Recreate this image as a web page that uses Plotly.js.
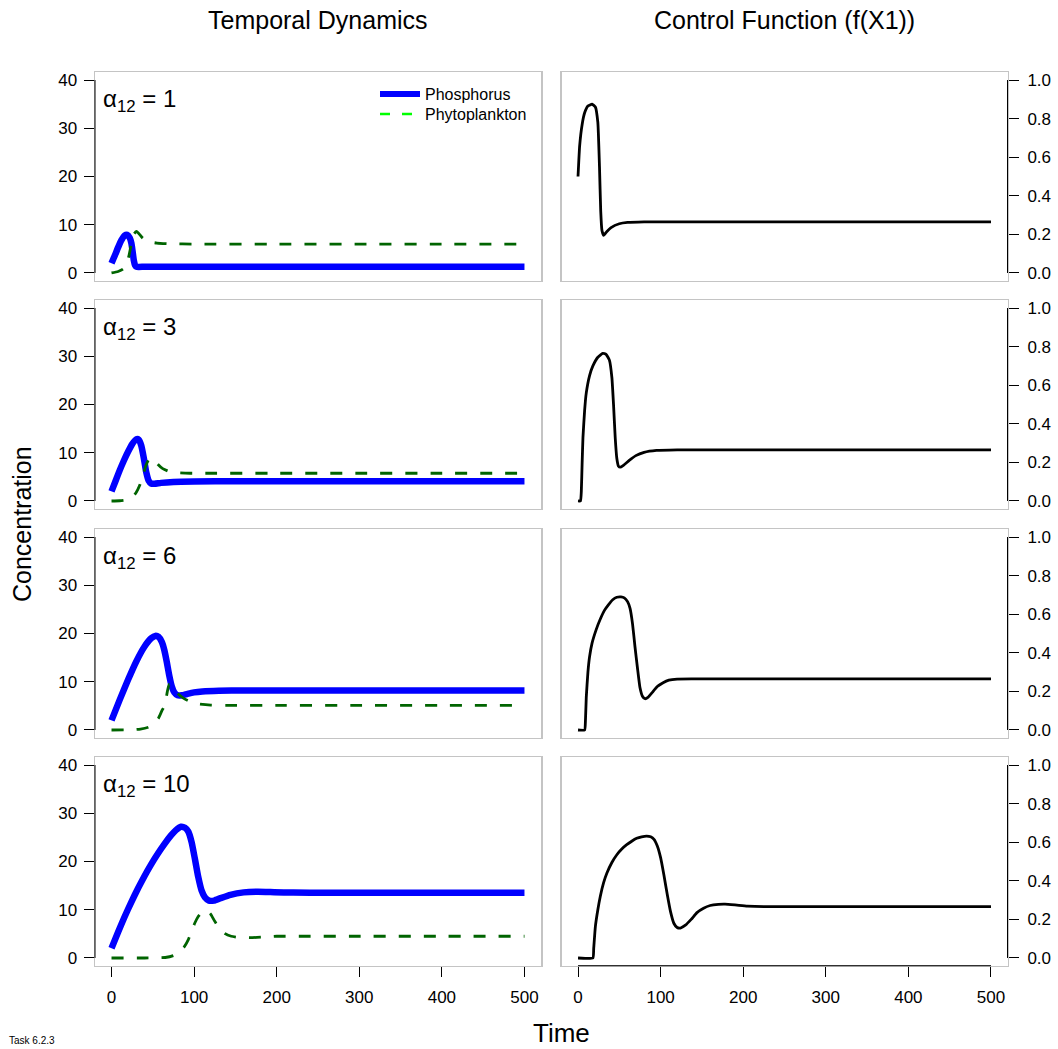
<!DOCTYPE html>
<html>
<head>
<meta charset="utf-8">
<script src="https://cdn.plot.ly/plotly-3.0.1.min.js"></script>
<style>html,body{margin:0;padding:0;background:#fff;}#chart{width:1058px;height:1049px;}</style>
</head>
<body>
<div id="chart"></div>
<script>
// ---------- Data ----------
const alphaLabels = ["1", "3", "6", "10"];
const xTicks = [0, 100, 200, 300, 400, 500];
const concTicks = [0, 10, 20, 30, 40];
const ctrlTicks = [0, 0.2, 0.4, 0.6, 0.8, 1.0];

// alpha12 = 1
const tPhos1 = [0, 4, 8, 12, 16, 19, 22, 24, 25.5, 27, 28.5, 30, 33, 40, 60, 100, 200, 300, 400, 500];
const phos1  = [2.0, 3.6, 5.3, 6.8, 7.8, 7.9, 7.3, 6.2, 4.5, 2.6, 1.6, 1.3, 1.25, 1.3, 1.3, 1.3, 1.3, 1.3, 1.3, 1.3];
const tPhyto1 = [0, 8, 14, 18, 21, 24, 27, 30, 33, 38, 45, 55, 70, 100, 200, 300, 400, 500];
const phyto1  = [0, 0.3, 0.8, 1.8, 3.5, 6.0, 8.0, 8.6, 8.2, 7.2, 6.5, 6.2, 6.05, 6.0, 6.0, 6.0, 6.0, 6.0];
const tCtrl1 = [0, 2, 5, 8, 12, 17, 21, 24, 26, 27.5, 29, 31, 35, 40, 50, 60, 80, 120, 200, 300, 400, 500];
const ctrl1  = [0.5, 0.66, 0.77, 0.83, 0.865, 0.875, 0.86, 0.78, 0.55, 0.32, 0.22, 0.195, 0.215, 0.235, 0.255, 0.262, 0.265, 0.265, 0.265, 0.265, 0.265, 0.265];

// alpha12 = 3
const tPhos3 = [0, 5, 10, 15, 20, 25, 30, 33, 36, 39, 42, 45, 48, 52, 60, 75, 100, 150, 200, 300, 400, 500];
const phos3  = [2.0, 4.2, 6.4, 8.4, 10.2, 11.8, 12.8, 12.7, 11.5, 9.0, 6.0, 4.2, 3.6, 3.55, 3.75, 3.95, 4.05, 4.1, 4.1, 4.1, 4.1, 4.1];
const tPhyto3 = [0, 10, 20, 26, 30, 34, 38, 42, 45, 48, 52, 56, 62, 70, 80, 95, 120, 200, 300, 400, 500];
const phyto3  = [0, 0.05, 0.3, 0.9, 1.8, 3.2, 5.3, 7.5, 8.6, 8.9, 8.5, 7.6, 6.7, 6.1, 5.85, 5.75, 5.75, 5.75, 5.75, 5.75, 5.75];
const tCtrl3 = [0, 3, 4, 5, 6, 8, 10, 14, 18, 24, 30, 34, 38, 41, 43, 45, 47, 49, 51, 55, 62, 70, 80, 95, 120, 200, 300, 400, 500];
const ctrl3  = [0, 0, 0.05, 0.2, 0.33, 0.47, 0.56, 0.65, 0.70, 0.745, 0.765, 0.76, 0.73, 0.64, 0.5, 0.33, 0.22, 0.18, 0.175, 0.185, 0.21, 0.235, 0.252, 0.262, 0.265, 0.265, 0.265, 0.265, 0.265];

// alpha12 = 6
const tPhos6 = [0, 10, 20, 30, 40, 48, 53, 57, 61, 64, 67, 70, 73, 76, 80, 85, 92, 100, 110, 130, 160, 200, 300, 400, 500];
const phos6  = [2.0, 6.3, 10.4, 14.2, 17.3, 19.0, 19.5, 19.3, 18.2, 16.5, 14.0, 11.2, 9.0, 7.8, 7.2, 7.2, 7.5, 7.8, 8.0, 8.15, 8.2, 8.2, 8.2, 8.2, 8.2];
const tPhyto6 = [0, 20, 35, 45, 52, 57, 61, 64, 66, 68, 70, 73, 80, 87, 95, 105, 120, 140, 200, 300, 400, 500];
const phyto6  = [0, 0.02, 0.2, 0.6, 1.4, 2.5, 4.0, 5.0, 6.5, 8.3, 9.5, 9.3, 7.6, 6.6, 5.9, 5.4, 5.15, 5.1, 5.1, 5.1, 5.1, 5.1];
const tCtrl6 = [0, 8, 9, 10, 12, 14, 17, 22, 27, 32, 37, 42, 47, 52, 56, 60, 63, 66, 69, 72, 75, 78, 81, 85, 90, 96, 103, 110, 120, 140, 200, 300, 400, 500];
const ctrl6  = [0, 0, 0.05, 0.17, 0.3, 0.38, 0.45, 0.52, 0.575, 0.62, 0.65, 0.675, 0.688, 0.69, 0.685, 0.665, 0.63, 0.55, 0.43, 0.32, 0.22, 0.175, 0.162, 0.17, 0.195, 0.225, 0.245, 0.258, 0.264, 0.265, 0.265, 0.265, 0.265, 0.265];

// alpha12 = 10
const tPhos10 = [0, 8, 16, 24, 32, 40, 48, 56, 64, 72, 78, 84, 89, 93, 97, 101, 105, 109, 113, 118, 124, 132, 144, 160, 177, 197, 220, 260, 300, 400, 500];
const phos10  = [2.0, 5.4, 8.6, 11.6, 14.4, 17.0, 19.4, 21.6, 23.6, 25.4, 26.5, 27.2, 27.0, 26.2, 24.0, 20.5, 16.8, 14.0, 12.6, 11.9, 11.9, 12.4, 13.1, 13.6, 13.75, 13.65, 13.55, 13.5, 13.5, 13.5, 13.5];
const tPhyto10 = [0, 40, 65, 75, 82, 88, 93, 97, 101, 105, 110, 115, 120, 125, 131, 137, 145, 155, 168, 185, 200, 230, 300, 400, 500];
const phyto10  = [0, 0, 0.1, 0.5, 1.2, 2.3, 3.8, 5.6, 7.3, 8.6, 9.6, 9.9, 9.1, 7.6, 6.1, 5.1, 4.5, 4.25, 4.2, 4.35, 4.5, 4.5, 4.5, 4.5, 4.5];
const tCtrl10 = [0, 18, 19, 21, 24, 27, 31, 35, 41, 47, 53, 59, 65, 71, 77, 83, 88, 92, 96, 100, 104, 108, 112, 116, 120, 124, 130, 137, 144, 152, 160, 170, 178, 190, 205, 225, 260, 300, 400, 500];
const ctrl10  = [0, 0, 0.05, 0.163, 0.25, 0.32, 0.39, 0.44, 0.495, 0.535, 0.565, 0.587, 0.605, 0.62, 0.628, 0.632, 0.628, 0.615, 0.58, 0.52, 0.43, 0.33, 0.24, 0.18, 0.158, 0.155, 0.17, 0.2, 0.235, 0.258, 0.272, 0.278, 0.279, 0.275, 0.269, 0.266, 0.266, 0.266, 0.266, 0.266];

// ---------- Build ----------
const W = 1058, H = 1049;
const FONT = "Liberation Sans, Arial, Helvetica, sans-serif";
const TICKFONT = 17;
const rowsData = [
  {tP: tPhos1, P: phos1, tF: tPhyto1, F: phyto1, tC: tCtrl1, C: ctrl1},
  {tP: tPhos3, P: phos3, tF: tPhyto3, F: phyto3, tC: tCtrl3, C: ctrl3},
  {tP: tPhos6, P: phos6, tF: tPhyto6, F: phyto6, tC: tCtrl6, C: ctrl6},
  {tP: tPhos10, P: phos10, tF: tPhyto10, F: phyto10, tC: tCtrl10, C: ctrl10}
];
// panel pixel geometry
const colX = [[95, 541], [561.5, 1007.5]];
const rowY = [[72.3, 280.7], [300.3, 508.7], [529.3, 737.7], [757.3, 965.7]];

const traces = [];
const legendBase = {
  xanchor: "left", yanchor: "middle",
  bgcolor: "rgba(0,0,0,0)", borderwidth: 0,
  font: {family: FONT, size: 16, color: "#000"},
  tracegroupgap: 0, itemwidth: 40
};
const layout = {
  width: W, height: H,
  margin: {l: 0, r: 0, t: 0, b: 0},
  paper_bgcolor: "#ffffff", plot_bgcolor: "#ffffff",
  font: {family: FONT, color: "#000000", size: 15},
  showlegend: true,
  legend: Object.assign({x: 375 / W, y: 1 - 94 / H}, legendBase),
  legend2: Object.assign({x: 375 / W, y: 1 - 114 / H}, legendBase),
  shapes: [], annotations: []
};

const line = (xref, yref, x0, y0, x1, y1) => ({type: "line", xref, yref, x0, y0, x1, y1, line: {color: "#000", width: 1}, layer: "above"});

for (let r = 0; r < 4; r++) {
  const d = rowsData[r];
  for (let c = 0; c < 2; c++) {
    const idx = r * 2 + c + 1;
    const xa = idx === 1 ? "x" : "x" + idx;
    const ya = idx === 1 ? "y" : "y" + idx;
    const xk = idx === 1 ? "xaxis" : "xaxis" + idx;
    const yk = idx === 1 ? "yaxis" : "yaxis" + idx;
    const bottom = r === 3;
    layout[xk] = {
      domain: [colX[c][0] / W, colX[c][1] / W],
      anchor: ya, range: [-20, 520],
      showline: true, linecolor: "#c4c4c4", linewidth: 1.5, mirror: true,
      showgrid: false, zeroline: false,
      tickmode: "array", tickvals: xTicks,
      ticks: bottom ? "outside" : "", ticklen: 10, tickwidth: 1, tickcolor: "#000",
      showticklabels: bottom, tickfont: {size: TICKFONT, family: FONT},
      ticklabelstandoff: 5,
      fixedrange: true
    };
    if (c === 0) {
      layout[yk] = {
        domain: [1 - rowY[r][1] / H, 1 - rowY[r][0] / H],
        anchor: xa, range: [-1.6, 41.6], side: "left",
        showline: true, linecolor: "#c4c4c4", linewidth: 1.5, mirror: true,
        showgrid: false, zeroline: false,
        tickmode: "array", tickvals: concTicks,
        ticks: "outside", ticklen: 10, tickwidth: 1, tickcolor: "#000",
        tickfont: {size: TICKFONT, family: FONT}, ticklabelstandoff: 3, fixedrange: true
      };
      layout.shapes.push(line(xa + " domain", ya, 0, 0, 0, 40));
      traces.push({
        x: d.tP, y: d.P, xaxis: xa, yaxis: ya, type: "scatter", mode: "lines",
        line: {color: "#0000ff", width: 6.5, shape: "spline", smoothing: 0.5},
        showlegend: false, hoverinfo: "skip"
      });
      traces.push({
        x: d.tF, y: d.F, xaxis: xa, yaxis: ya, type: "scatter", mode: "lines",
        line: {color: "#006400", width: 2.8, dash: "12px,13px", shape: "spline", smoothing: 0.5},
        showlegend: false, hoverinfo: "skip"
      });
      layout.annotations.push({
        xref: xa + " domain", yref: ya + " domain", x: 0.013, y: 0.865,
        xanchor: "left", yanchor: "middle", showarrow: false,
        text: "α<sub>12</sub> = " + alphaLabels[r],
        font: {family: FONT, size: 24, color: "#000"}
      });
    } else {
      layout[yk] = {
        domain: [1 - rowY[r][1] / H, 1 - rowY[r][0] / H],
        anchor: xa, range: [-0.04, 1.04], side: "right",
        showline: true, linecolor: "#c4c4c4", linewidth: 1.5, mirror: true,
        showgrid: false, zeroline: false,
        tickmode: "array", tickvals: ctrlTicks, tickformat: ".1f",
        ticks: "outside", ticklen: 10, tickwidth: 1, tickcolor: "#000",
        tickfont: {size: TICKFONT, family: FONT}, ticklabelstandoff: 5, fixedrange: true
      };
      layout.shapes.push(line(xa + " domain", ya, 1, 0, 1, 1));
      if (bottom) layout.shapes.push(line(xa, ya + " domain", 0, 0, 500, 0));
      traces.push({
        x: d.tC, y: d.C, xaxis: xa, yaxis: ya, type: "scatter", mode: "lines",
        line: {color: "#000000", width: 2.8, shape: "spline", smoothing: 0.4},
        showlegend: false, hoverinfo: "skip"
      });
    }
  }
}

// legend-only entries (top-left panel)
traces.push({x: [null], y: [null], xaxis: "x", yaxis: "y", type: "scatter", mode: "lines",
  name: "Phosphorus", line: {color: "#0000ff", width: 6}, showlegend: true, legend: "legend"});
traces.push({x: [null], y: [null], xaxis: "x", yaxis: "y", type: "scatter", mode: "lines",
  name: "Phytoplankton", line: {color: "#00ff00", width: 2.5, dash: "10px,12px"}, showlegend: true, legend: "legend2"});

// titles and labels
const ann = (text, x, y, size, extra) => Object.assign({
  xref: "paper", yref: "paper", x: x / W, y: 1 - y / H, text, showarrow: false,
  xanchor: "center", yanchor: "middle", font: {family: FONT, size, color: "#000"}
}, extra || {});
layout.annotations.push(ann("Temporal Dynamics", 318, 20, 25));
layout.annotations.push(ann("Control Function (f(X1))", 784, 20, 25));
layout.annotations.push(ann("Concentration", 22, 524, 25, {textangle: -90}));
layout.annotations.push(ann("Time", 561, 1033, 26));
layout.annotations.push(ann("Task 6.2.3", 7, 1040, 10, {xanchor: "left"}));

Plotly.newPlot("chart", traces, layout, {staticPlot: true, displayModeBar: false});
</script>
</body>
</html>
